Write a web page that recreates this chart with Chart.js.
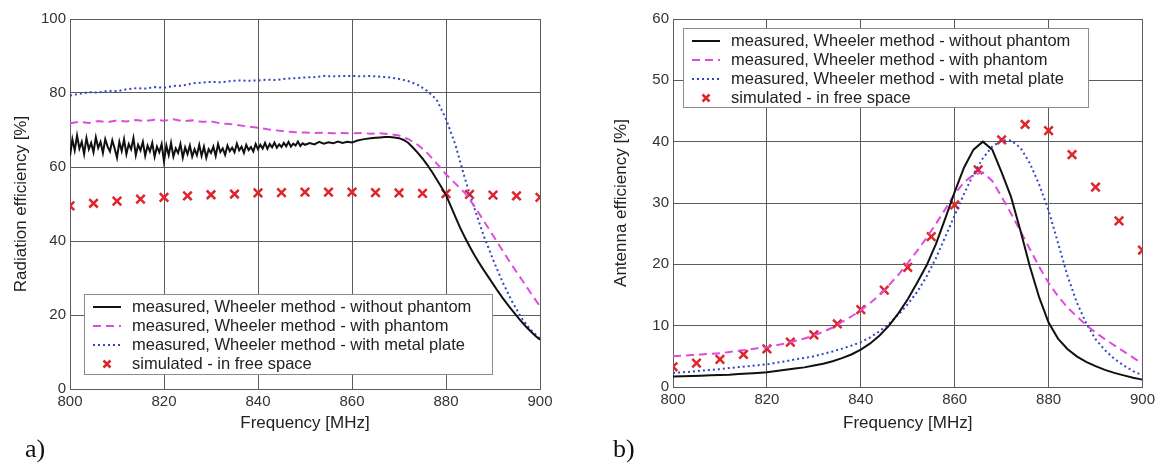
<!DOCTYPE html>
<html>
<head>
<meta charset="utf-8">
<script src="https://cdn.jsdelivr.net/npm/chart.js@4.4.1/dist/chart.umd.min.js"></script>
<style>
  html, body { margin: 0; padding: 0; background: #fff; }
  #wrap { position: relative; width: 1159px; height: 473px; overflow: hidden; }
  .box { position: absolute; top: 0; height: 440px; }
  #boxA { left: 0; width: 580px; }
  #boxB { left: 580px; width: 579px; }
  .tag { position: absolute; top: 434px; font: 26px "Liberation Serif", serif; color: #111; }
</style>
</head>
<body>
<div id="wrap">
  <div class="box" id="boxA"><canvas id="chartA"></canvas></div>
  <div class="box" id="boxB"><canvas id="chartB"></canvas></div>
  <div class="tag" style="left:25px">a)</div>
  <div class="tag" style="left:613px">b)</div>
</div>
<script>
// frequency grids [MHz]
const steps = (from, to, step) => {
  const out = [];
  for (let f = from; f <= to + 1e-9; f += step) out.push(f);
  return out;
};
const freqFine = steps(800, 850, 0.5).concat(steps(851, 900, 1));
const freq2 = steps(800, 900, 2);
const freq5 = steps(800, 900, 5);

const labels = [
  "measured, Wheeler method - without phantom",
  "measured, Wheeler method - with phantom",
  "measured, Wheeler method - with metal plate",
  "simulated - in free space"
];

// a) radiation efficiency [%]
const noPhantomA = [
  63, 67.5, 64.5, 68.5, 65, 66.8, 63.5, 67.8, 64.8, 66.5,
  64, 68, 65.2, 66.8, 63.8, 67.5, 65.5, 64.2, 67.2, 65,
  62.5, 66.8, 64.3, 67.5, 63.5, 66.2, 64.8, 67.8, 63.2, 66,
  64.5, 66.8, 63, 65.8, 64.2, 66.5, 62.8, 65.5, 64, 66.2,
  61.5, 65.8, 63.2, 66.5, 62.8, 65, 63.8, 66.2, 62.5, 65.3,
  63.5, 65.8, 62.8, 64.8, 63.2, 66, 63, 65.5, 62.5, 64.8,
  63.8, 65.5, 63, 66.2, 64, 65, 63.3, 65.8, 64.3, 65.2,
  64, 66.3, 64.5, 65.5, 63.8, 66, 64.6, 65.4, 64.2, 66.2,
  64.8, 66, 65, 66.5, 64.9, 66.2, 65.3, 66.6, 65.2, 66.1,
  65.4, 66.5, 65.6, 66.8, 65.5, 66.3, 65.8, 66.9, 65.7, 66.4,
  66,
  66.5, 66.1, 66.8, 66.3, 66.7, 66.4, 66.9, 66.5, 66.8, 66.6,
  67.1, 67.4, 67.6, 67.8, 67.9, 68, 68.1, 68.1, 68, 67.8,
  67.3, 66.5, 65.2, 63.8, 62.3, 60.6, 58.7, 56.7, 54.6, 52.4,
  49.5, 46.5, 43.6, 41, 38.6, 36.3, 34.2, 32.2, 30.3, 28.4,
  26.5, 24.7, 23, 21.4, 19.8, 18.3, 16.9, 15.6, 14.4, 13.3
];
const withPhantomA = [
  71.8, 72.2, 71.9, 72.4, 72.1, 72.6, 72.3, 72.7, 72.4, 72.8,
  72.5, 72.9, 72.4, 72.6, 72.2, 72.3, 71.8, 71.6, 71.3, 70.9,
  70.6, 70.2, 69.9, 69.6, 69.4, 69.3, 69.2, 69.3, 69.1, 69.2,
  69.1, 69.2, 69.0, 69.1, 68.9, 68.5, 67.5, 66, 63.8, 61,
  58, 55.5, 53, 49.5, 45.5, 41.5, 37.5, 33.5, 29.8, 26,
  22.3
];
const metalPlateA = [
  79.3, 79.8, 80.2, 80.1, 80.6, 80.5, 81.0, 81.3, 81.2, 81.6,
  81.4, 81.9, 82.0, 82.6, 82.8, 83.0, 82.9, 83.2, 83.4, 83.3,
  83.4, 83.6, 83.5, 83.9, 84.0, 84.2, 84.3, 84.6, 84.5, 84.6,
  84.6, 84.5, 84.6, 84.4, 84.2, 83.8, 83.2, 82.2, 80.6, 78.2,
  73, 66, 57, 49, 41.5, 35, 29, 23.8, 19.3, 16,
  13.6
];
const simulatedA = [
  49.5, 50.2, 50.8, 51.3, 51.8, 52.2, 52.5, 52.7, 53, 53.1, 53.2,
  53.2, 53.2, 53.1, 53, 52.9, 52.8, 52.6, 52.4, 52.2, 51.8
];

// b) antenna efficiency [%]
const noPhantomB = [
  1.7, 1.75, 1.8, 1.85, 1.9, 1.95, 2.0, 2.1, 2.2, 2.3,
  2.4, 2.6, 2.8, 3.0, 3.2, 3.5, 3.8, 4.2, 4.7, 5.3,
  6.1, 7.1, 8.4, 10, 12, 14.3, 17, 19.8, 23.3, 27.5,
  31.8, 35.8, 38.7, 40, 38.7, 35, 31, 25.5, 19.7, 14.6,
  10.5, 7.9, 6.2, 5, 4.1, 3.4, 2.8, 2.3, 1.9, 1.5, 1.2
];
const withPhantomB = [
  5.0, 5.1, 5.2, 5.3, 5.4, 5.5, 5.7, 5.9, 6.1, 6.3,
  6.5, 6.8, 7.1, 7.5, 7.9, 8.4, 9.0, 9.7, 10.6, 11.5,
  12.5, 13.7, 15, 16.6, 18.3, 20.2, 22.2, 24.3, 26.6, 29,
  31.5, 33.4, 34.6, 35, 33.6, 31, 28.3, 25.4, 22.5, 19.6,
  17, 14.8, 13, 11.5, 10.1, 8.9, 7.8, 6.8, 5.8, 4.8, 3.8
];
const metalPlateB = [
  2.3, 2.4, 2.5, 2.65, 2.8, 2.9, 3.1, 3.25, 3.4, 3.55,
  3.7, 3.95, 4.2, 4.5, 4.75, 5.0, 5.4, 5.8, 6.25, 6.75,
  7.3, 8.1, 9.1, 10.3, 11.8, 13.5, 15.5, 18, 21, 24.5,
  28, 31.5, 34.7, 37.3, 39.2, 40.2, 40.2, 39, 36.5, 33,
  28.8, 23.5, 18.2, 13.8, 10.4, 7.8, 6, 4.6, 3.5, 2.6, 1.9
];
const simulatedB = [
  3.3, 3.9, 4.5, 5.3, 6.2, 7.3, 8.5, 10.3, 12.6, 15.8, 19.5,
  24.5, 29.7, 35.4, 40.3, 42.8, 41.8, 37.9, 32.6, 27.1, 22.3
];

Chart.defaults.font.family = "'Liberation Sans', Arial, sans-serif";
Chart.defaults.color = "#333";

const gridColor = "#5c5c5c";

const pts = (xs, ys) => xs.map((x, i) => ({ x: x, y: ys[i] }));

// boxed legend drawn inside the plot area, MATLAB style
const boxLegend = {
  id: "boxLegend",
  afterDatasetsDraw(chart, args, opts) {
    const ctx = chart.ctx;
    const area = chart.chartArea;
    const x = area.left + opts.dx;
    const y = opts.bottom ? area.bottom - opts.dy - opts.height : area.top + opts.dy;
    ctx.save();
    ctx.fillStyle = "#fff";
    ctx.fillRect(x, y, opts.width, opts.height);
    ctx.strokeStyle = "#8c8c8c";
    ctx.lineWidth = 1;
    ctx.strokeRect(x + 0.5, y + 0.5, opts.width, opts.height);
    ctx.font = "16.5px 'Liberation Sans', Arial, sans-serif";
    ctx.textBaseline = "middle";
    chart.data.datasets.forEach((ds, i) => {
      const cy = y + 13 + i * 19;
      ctx.strokeStyle = ds.borderColor;
      if (ds.showLine === false) {
        const cx = x + 23, r = 3.5;
        ctx.lineWidth = ds.pointBorderWidth;
        ctx.beginPath();
        ctx.moveTo(cx - r, cy - r); ctx.lineTo(cx + r, cy + r);
        ctx.moveTo(cx + r, cy - r); ctx.lineTo(cx - r, cy + r);
        ctx.stroke();
      } else {
        ctx.lineWidth = Math.min(ds.borderWidth, 2);
        ctx.setLineDash(ds.borderDash || []);
        ctx.beginPath();
        ctx.moveTo(x + 9, cy); ctx.lineTo(x + 37, cy);
        ctx.stroke();
        ctx.setLineDash([]);
      }
      ctx.fillStyle = "#222";
      ctx.fillText(ds.label, x + 48, cy);
    });
    ctx.restore();
  }
};

const makeChart = (id, cfg) => {
  const lineDs = (label, data, color, width, dash) => ({
    label: label, data: data, borderColor: color, borderWidth: width,
    borderDash: dash, pointRadius: 0, tension: 0, fill: false
  });
  return new Chart(document.getElementById(id), {
    type: "line",
    data: {
      datasets: [
        lineDs(labels[0], cfg.black, "#111", cfg.blackWidth, []),
        lineDs(labels[1], cfg.magenta, "#dd4ddd", 2, [8, 5]),
        lineDs(labels[2], cfg.blue, "#3445c4", 2, [2, 3]),
        {
          label: labels[3], data: cfg.red, showLine: false,
          borderColor: "#e0242c", backgroundColor: "#e0242c",
          pointStyle: "crossRot", pointRadius: 6, pointBorderWidth: 2.5
        }
      ]
    },
    options: {
      responsive: true,
      maintainAspectRatio: false,
      animation: false,
      devicePixelRatio: 1,
      layout: { padding: { top: 19, right: cfg.padRight, left: 0, bottom: 0 } },
      scales: {
        x: {
          type: "linear", min: 800, max: 900,
          afterFit: s => { s.height = cfg.xHeight; },
          ticks: { stepSize: 20, padding: 4, font: { size: 15 }, color: "#333" },
          grid: { color: gridColor, lineWidth: 1, drawTicks: false },
          border: { color: gridColor },
          title: { display: true, text: "Frequency [MHz]", font: { size: 17 }, color: "#222",
                   padding: { top: 0, bottom: 6 } }
        },
        y: {
          type: "linear", min: 0, max: cfg.yMax,
          afterFit: s => { s.width = cfg.yWidth; },
          ticks: { stepSize: cfg.yStep, padding: 4, font: { size: 15 }, color: "#333" },
          grid: { color: gridColor, lineWidth: 1, drawTicks: false },
          border: { color: gridColor },
          title: { display: true, text: cfg.yTitle, font: { size: 17 }, color: "#222",
                   padding: { top: cfg.yTitlePad, bottom: 0 } }
        }
      },
      plugins: {
        legend: { display: false },
        tooltip: { enabled: false },
        boxLegend: cfg.legend
      }
    },
    plugins: [boxLegend]
  });
};

makeChart("chartA", {
  black: pts(freqFine, noPhantomA),
  blackWidth: 2,
  magenta: pts(freq2, withPhantomA),
  blue: pts(freq2, metalPlateA),
  red: pts(freq5, simulatedA),
  yMax: 100, yStep: 20,
  yTitle: "Radiation efficiency [%]",
  yWidth: 70, yTitlePad: 11,
  xHeight: 51, padRight: 40,
  legend: { dx: 14, dy: 15, width: 408, height: 80, bottom: true }
});

makeChart("chartB", {
  black: pts(freq2, noPhantomB),
  blackWidth: 2,
  magenta: pts(freq2, withPhantomB),
  blue: pts(freq2, metalPlateB),
  red: pts(freq5, simulatedB),
  yMax: 60, yStep: 10,
  yTitle: "Antenna efficiency [%]",
  yWidth: 93, yTitlePad: 31,
  xHeight: 53, padRight: 16,
  legend: { dx: 10, dy: 9, width: 405, height: 79, bottom: false }
});
</script>
</body>
</html>
